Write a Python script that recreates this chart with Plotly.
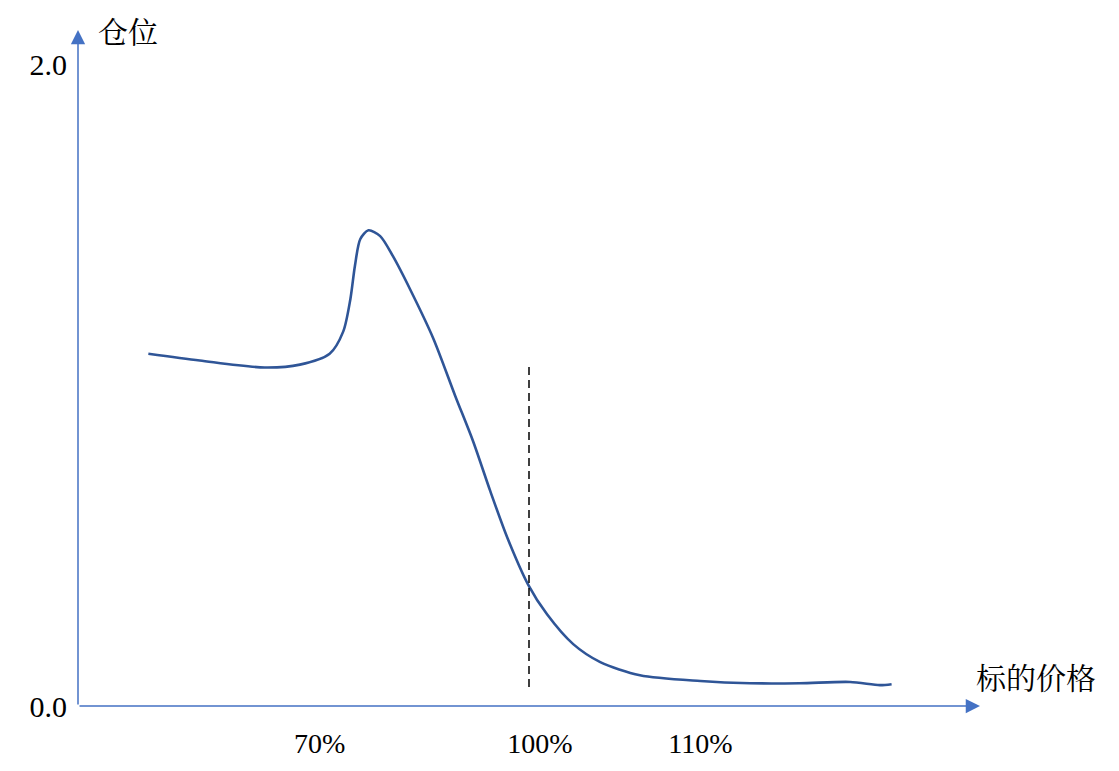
import plotly.graph_objects as go

# Curve data (x: position along price axis, 0-100; y: position size)
price_pos = [7.8, 13.5, 20.7, 24.6, 27.9, 29.4, 30.2, 30.7, 31.3, 32.2, 33.5, 34.9, 36.8,
             39.4, 41.8, 43.8, 45.7, 47.6, 49.9, 52.0, 54.9, 57.9, 62.3, 69.0, 74.5,
             80.0, 85.6, 88.9, 90.2]
position = [1.099, 1.078, 1.056, 1.065, 1.099, 1.168, 1.270, 1.373, 1.457, 1.484, 1.466,
            1.404, 1.301, 1.146, 0.969, 0.826, 0.671, 0.525, 0.379, 0.286, 0.193, 0.137,
            0.096, 0.078, 0.071, 0.071, 0.075, 0.065, 0.068]

ref_x = [50.0, 50.0]
ref_y = [0.059, 1.062]

x_tick_vals = [26.8, 51.2, 69.0]
x_tick_text = ["70%", "100%", "110%"]
y_tick_vals = [0.0, 2.0]
y_tick_text = ["0.0", "2.0"]

x_max = 100.0
y_max = 2.109

axis_color = "#4472C4"
curve_color = "#2F5597"
serif = "Liberation Serif, Noto Serif CJK SC, Noto Sans CJK SC, serif"
cjk = "Noto Serif CJK SC, Noto Sans CJK SC, sans-serif"

fig = go.Figure()
fig.add_trace(go.Scatter(x=price_pos, y=position, mode="lines",
                         line=dict(color=curve_color, width=2.6, shape="spline", smoothing=0.8),
                         hoverinfo="skip", showlegend=False))
fig.add_trace(go.Scatter(x=ref_x, y=ref_y, mode="lines",
                         line=dict(color="black", width=1.5, dash="8px,5px"),
                         hoverinfo="skip", showlegend=False))

# axes with arrowheads
fig.add_annotation(x=x_max, y=0, ax=0, ay=0, xref="x", yref="y", axref="x", ayref="y",
                   showarrow=True, arrowhead=2, arrowsize=1.9, arrowwidth=1.5,
                   arrowcolor=axis_color, text="")
fig.add_annotation(x=0, y=y_max, ax=0, ay=0, xref="x", yref="y", axref="x", ayref="y",
                   showarrow=True, arrowhead=2, arrowsize=1.9, arrowwidth=1.5,
                   arrowcolor=axis_color, text="")

# axis titles
fig.add_annotation(x=0.02, y=1.0, xref="paper", yref="paper", xanchor="left", yanchor="middle",
                   text="仓位", showarrow=False, font=dict(family=cjk, size=30, color="black"))
fig.add_annotation(x=1.0, y=0.045, xref="paper", yref="paper", xanchor="left", yanchor="middle",
                   xshift=-6, text="标的价格", showarrow=False,
                   font=dict(family=cjk, size=30, color="black"))

fig.update_xaxes(range=[0, x_max], showgrid=False, zeroline=False, showline=False,
                 tickmode="array", tickvals=x_tick_vals, ticktext=x_tick_text,
                 ticks="", ticklabelstandoff=18,
                 tickfont=dict(family=serif, size=28, color="black"), fixedrange=True)
fig.update_yaxes(range=[0, y_max], showgrid=False, zeroline=False, showline=False,
                 tickmode="array", tickvals=y_tick_vals, ticktext=y_tick_text,
                 ticks="", ticklabelstandoff=10,
                 tickfont=dict(family=serif, size=30, color="black"), fixedrange=True)

fig.update_layout(width=1111, height=763,
                  margin=dict(l=70, r=139, t=22, b=62),
                  paper_bgcolor="white", plot_bgcolor="white",
                  showlegend=False)

fig.write_html("out.html")
